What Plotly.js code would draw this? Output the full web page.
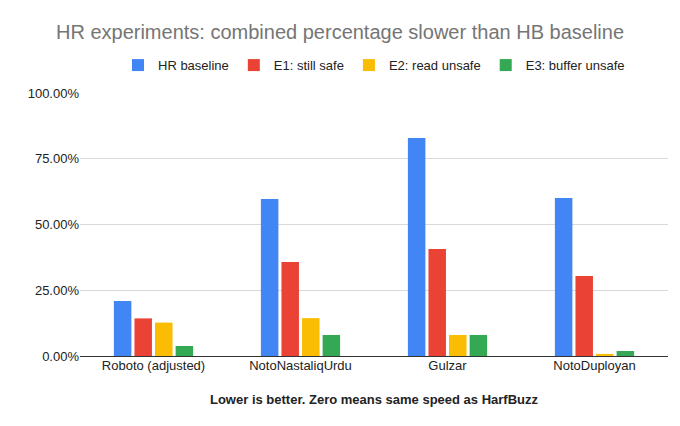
<!DOCTYPE html>
<html>
<head>
<meta charset="utf-8">
<script src="https://cdn.plot.ly/plotly-3.0.1.min.js"></script>
<style>html,body{margin:0;padding:0;background:#fff}</style>
</head>
<body>
<div id="chart" style="width:680px;height:426px"></div>
<script>
const categories = ['Roboto (adjusted)', 'NotoNastaliqUrdu', 'Gulzar', 'NotoDuployan'];
const hrBaseline = [0.209, 0.597, 0.829, 0.601];
const e1StillSafe = [0.143, 0.357, 0.407, 0.304];
const e2ReadUnsafe = [0.127, 0.144, 0.080, 0.008];
const e3BufferUnsafe = [0.038, 0.080, 0.080, 0.019];
const tickVals = [0, 0.25, 0.5, 0.75, 1];
const tickText = ['0.00%', '25.00%', '50.00%', '75.00%', '100.00%'];

const series = [
    { name: 'HR baseline', y: hrBaseline, color: '#4285f4' },
    { name: 'E1: still safe', y: e1StillSafe, color: '#ea4335' },
    { name: 'E2: read unsafe', y: e2ReadUnsafe, color: '#fbbc04' },
    { name: 'E3: buffer unsafe', y: e3BufferUnsafe, color: '#34a853' }
];

const data = series.map(s => ({
    type: 'bar',
    name: s.name,
    x: categories,
    y: s.y,
    marker: { color: s.color },
    hoverinfo: 'none'
}));

const layout = {
    width: 680,
    height: 426,
    margin: { l: 80, r: 12, t: 93, b: 70 },
    font: { family: 'Liberation Sans, Arial, sans-serif', size: 13, color: '#222' },
    title: {
        text: 'HR experiments: combined percentage slower than HB baseline',
        font: { size: 20, color: '#757575' },
        x: 0.5, xanchor: 'center', y: 0.925, yanchor: 'middle'
    },
    showlegend: true,
    legend: {
        orientation: 'h', x: 0.5, xanchor: 'center', y: 1.106, yanchor: 'middle',
        font: { size: 13 }
    },
    barmode: 'group',
    bargap: 0.44,
    bargroupgap: 0.15,
    xaxis: {
        title: { text: '<b>Lower is better. Zero means same speed as HarfBuzz</b>', font: { size: 13 }, standoff: 22 },
        showline: false,
        ticks: ''
    },
    yaxis: {
        range: [0, 1.0],
        tickvals: tickVals,
        ticktext: tickText,
        gridcolor: '#d9d9d9',
        zeroline: true,
        zerolinecolor: '#333',
        zerolinewidth: 1,
        ticks: ''
    },
    paper_bgcolor: '#fff',
    plot_bgcolor: '#fff'
};

Plotly.newPlot('chart', data, layout, { displayModeBar: false, staticPlot: true });
</script>
</body>
</html>
